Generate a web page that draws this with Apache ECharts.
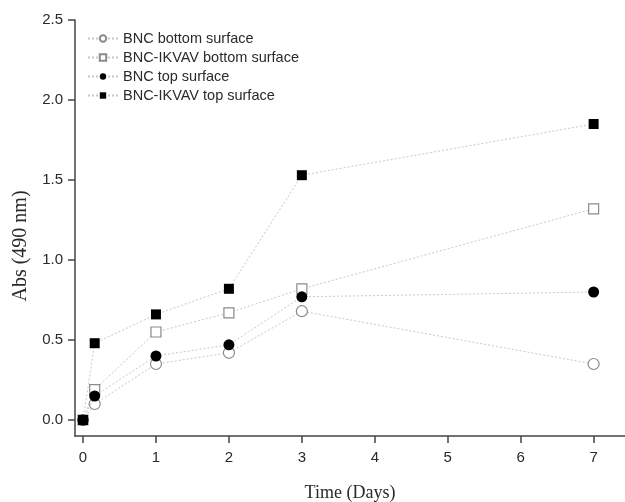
<!DOCTYPE html>
<html>
<head>
<meta charset="utf-8">
<script src="https://cdn.jsdelivr.net/npm/echarts@6/dist/echarts.min.js"></script>
<style>html,body{margin:0;padding:0;background:#fff;}#c{width:625px;height:502px;}</style>
</head>
<body>
<div id="c"></div>
<script>
const days = [0, 0.16, 1, 2, 3, 7];
const bncBottom = [0.0, 0.10, 0.35, 0.42, 0.68, 0.35];
const ikvavBottom = [0.0, 0.19, 0.55, 0.67, 0.82, 1.32];
const bncTop = [0.0, 0.15, 0.40, 0.47, 0.77, 0.80];
const ikvavTop = [0.0, 0.48, 0.66, 0.82, 1.53, 1.85];
const xTicks = [0, 1, 2, 3, 4, 5, 6, 7];
const yTicks = [0, 0.5, 1.0, 1.5, 2.0, 2.5];

const pair = arr => days.map((d, i) => [d, arr[i]]);
const lineStyle = { color: '#c8c8c8', width: 1, type: [2, 2] };
function mk(name, arr, symbol, filled, size) {
  return {
    name, type: 'line', data: pair(arr), symbol, symbolSize: size,
    lineStyle, itemStyle: filled ? { color: '#000', borderColor: '#000', borderWidth: 0 } : { color: '#fff', borderColor: '#8a8a8a', borderWidth: 1.2 },
    emphasis: { disabled: true }, z: filled ? 3 : 2
  };
}
const chart = echarts.init(document.getElementById('c'));
chart.setOption({
  animation: false,
  backgroundColor: '#fff',
  grid: { left: 75, top: 20, right: 0, bottom: 66, containLabel: false, outerBoundsMode: 'none' },
  legend: {
    orient: 'vertical', left: 82, top: 26, itemGap: 4, itemWidth: 30, itemHeight: 8,
    textStyle: { fontFamily: 'Liberation Sans', fontSize: 14.5, color: '#2a2a2a' },
    data: ['BNC bottom surface', 'BNC-IKVAV bottom surface', 'BNC top surface', 'BNC-IKVAV top surface']
  },
  xAxis: {
    type: 'value', min: -0.11, max: 7.43,
    name: 'Time (Days)', nameLocation: 'middle', nameGap: 48,
    nameTextStyle: { fontFamily: 'Liberation Serif', fontSize: 18, color: '#2a2a2a' },
    axisLine: { show: true, onZero: false, lineStyle: { color: '#444', width: 1.5 } },
    axisTick: { show: true, length: 7, customValues: xTicks, lineStyle: { color: '#444', width: 1.5 } },
    axisLabel: { customValues: xTicks, margin: 14, fontFamily: 'Liberation Sans', fontSize: 15, color: '#2a2a2a' },
    splitLine: { show: false }
  },
  yAxis: {
    type: 'value', min: -0.1, max: 2.5,
    name: 'Abs (490 nm)', nameLocation: 'middle', nameGap: 42,
    nameTextStyle: { fontFamily: 'Liberation Serif', fontSize: 20, color: '#2a2a2a', padding: [0, 36, 0, 0] },
    axisLine: { show: true, onZero: false, lineStyle: { color: '#444', width: 1.5 } },
    axisTick: { show: true, length: 7, customValues: yTicks, lineStyle: { color: '#444', width: 1.5 } },
    axisLabel: { customValues: yTicks, margin: 12, fontFamily: 'Liberation Sans', fontSize: 15, color: '#2a2a2a', formatter: v => v.toFixed(1) },
    splitLine: { show: false }
  },
  series: [
    mk('BNC bottom surface', bncBottom, 'circle', false, 11),
    mk('BNC-IKVAV bottom surface', ikvavBottom, 'rect', false, 10),
    mk('BNC top surface', bncTop, 'circle', true, 11),
    mk('BNC-IKVAV top surface', ikvavTop, 'rect', true, 10)
  ]
});
</script>
</body>
</html>
